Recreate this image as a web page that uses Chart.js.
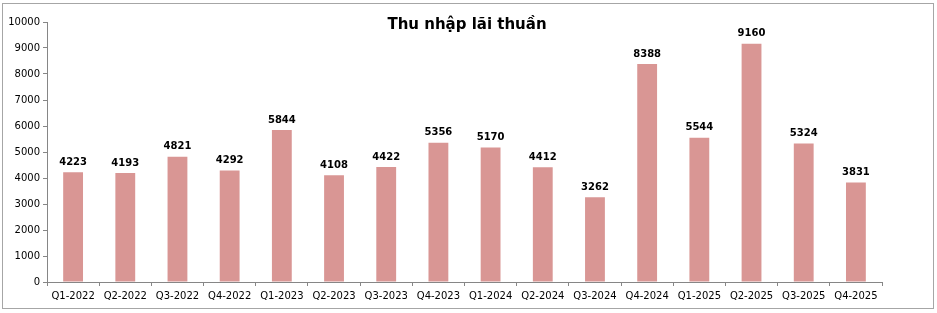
<!DOCTYPE html>
<html>
<head>
<meta charset="utf-8">
<script src="https://cdn.jsdelivr.net/npm/chart.js"></script>
<style>
  html, body { margin: 0; padding: 0; background: #fff; }
  #wrap { width: 937px; height: 313px; }
</style>
</head>
<body>
<div id="wrap"><canvas id="myChart" width="937" height="313"></canvas></div>
<script>
// Dữ liệu biểu đồ
const quarters = ['Q1-2022', 'Q2-2022', 'Q3-2022', 'Q4-2022', 'Q1-2023', 'Q2-2023', 'Q3-2023', 'Q4-2023',
  'Q1-2024', 'Q2-2024', 'Q3-2024', 'Q4-2024', 'Q1-2025', 'Q2-2025', 'Q3-2025', 'Q4-2025'];
const netInterest = [4223, 4193, 4821, 4292, 5844, 4108, 4422, 5356, 5170, 4412, 3262, 8388, 5544, 9160, 5324, 3831];
const yTicks = [0, 1000, 2000, 3000, 4000, 5000, 6000, 7000, 8000, 9000, 10000];
const chartTitle = 'Thu nhập lãi thuần';

// Vẽ nhãn giá trị, tiêu đề và khung viền
const extras = {
  id: 'extras',
  afterDatasetsDraw(chart) {
    const ctx = chart.ctx;
    ctx.save();
    ctx.fillStyle = '#000';
    ctx.font = 'bold 10px "DejaVu Sans"';
    ctx.textAlign = 'center';
    ctx.textBaseline = 'bottom';
    chart.getDatasetMeta(0).data.forEach((bar, i) => {
      ctx.fillText(netInterest[i], bar.x, bar.y - 5);
    });
    ctx.font = 'bold 15px "DejaVu Sans"';
    ctx.textBaseline = 'middle';
    ctx.fillText(chartTitle, 467, 25);
    ctx.strokeStyle = '#a6a6a6';
    ctx.lineWidth = 1;
    ctx.strokeRect(2.5, 3.5, 931, 305);
    ctx.restore();
  }
};

const config = {
  type: 'bar',
  data: {
    labels: quarters,
    datasets: [{
      data: netInterest,
      backgroundColor: '#d99694',
      categoryPercentage: 1,
      barPercentage: 0.38
    }]
  },
  options: {
    responsive: false,
    animation: false,
    layout: { padding: { top: 22, right: 55, left: 0, bottom: 0 } },
    plugins: { legend: { display: false }, tooltip: { enabled: false } },
    scales: {
      x: {
        grid: { drawOnChartArea: false, drawTicks: true, tickLength: 4, color: '#868686', offset: true },
        border: { color: '#868686' },
        ticks: { color: '#000', font: { family: 'DejaVu Sans', size: 10 }, maxRotation: 0, autoSkip: false, padding: 4 },
        afterFit(scale) { scale.height = 31; }
      },
      y: {
        min: 0,
        max: 10000,
        afterBuildTicks(scale) { scale.ticks = yTicks.map(v => ({ value: v })); },
        grid: { drawOnChartArea: false, drawTicks: true, tickLength: 4, color: '#868686' },
        border: { color: '#868686' },
        ticks: {
          color: '#000',
          font: { family: 'DejaVu Sans', size: 10 },
          padding: 3,
          callback: v => String(v)
        },
        afterFit(scale) { scale.width = 47; }
      }
    }
  },
  plugins: [extras]
};

new Chart(document.getElementById('myChart').getContext('2d'), config);
</script>
</body>
</html>
